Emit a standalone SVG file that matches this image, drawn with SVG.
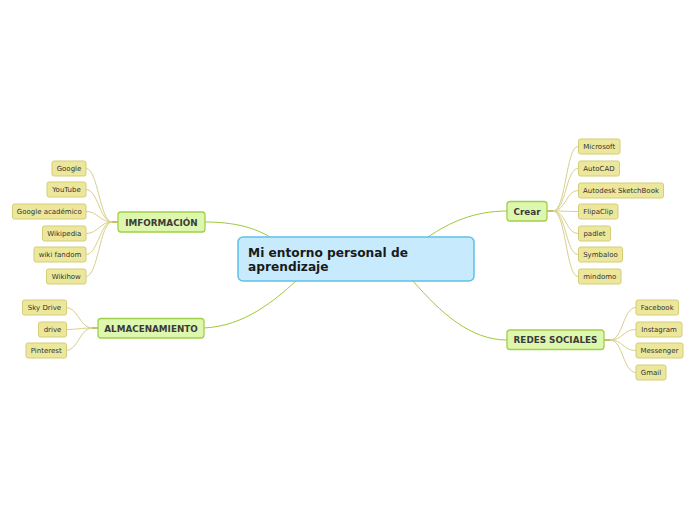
<svg xmlns="http://www.w3.org/2000/svg" width="696" height="520" viewBox="0 0 696 520">
<style>
.main rect{fill:#c7ebfc;stroke:#5ec1ea;stroke-width:1.5}
.main text{font-family:"DejaVu Sans",Verdana,sans-serif;font-weight:bold;font-size:12.2px;fill:#1a1a1a}
.br rect{fill:#def7ae;stroke:#a2cf4a;stroke-width:1.3}
.br text{font-family:"DejaVu Sans",Verdana,sans-serif;font-weight:bold;font-size:8.8px;fill:#3a3a3a;text-anchor:middle}
.lf rect{fill:#ede79c;stroke:#d5cd78;stroke-width:1}
.lf text{font-family:"DejaVu Sans",Verdana,sans-serif;font-size:7px;fill:#333;text-anchor:middle}
.mc{fill:none;stroke:#9fc83c;stroke-width:1}
.lc{fill:none;stroke:#d8d08c;stroke-width:1}
.st{fill:none;stroke:#b8a83a;stroke-width:1.5}
</style>
<rect width="696" height="520" fill="#ffffff"/>
<g id="connectors">
<path class="mc" d="M205,222 C235,222 255,228 270,237"/>
<path class="mc" d="M204,328 C245,326 275,300 296,281"/>
<path class="mc" d="M428,237 C450,222 475,211 507,211"/>
<path class="mc" d="M413,281 C440,312 470,340 507,340"/>
<path class="st" d="M118,222 H112"/>
<path class="lc" d="M112,222 C100,222 98,168.5 86,168.5"/>
<path class="lc" d="M112,222 C100,222 98,189.5 86,189.5"/>
<path class="lc" d="M112,222 C100,222 98,211.5 86,211.5"/>
<path class="lc" d="M112,222 C100,222 98,233.5 86,233.5"/>
<path class="lc" d="M112,222 C100,222 98,254.5 86,254.5"/>
<path class="lc" d="M112,222 C100,222 98,276.5 86,276.5"/>
<path class="st" d="M98,328 H92"/>
<path class="lc" d="M92,328 C80,328 78,307.5 66,307.5"/>
<path class="lc" d="M92,328 C80,328 78,329.5 66,329.5"/>
<path class="lc" d="M92,328 C80,328 78,350.5 66,350.5"/>
<path class="st" d="M547,211 H553"/>
<path class="lc" d="M553,211 C566,211 566,146.5 578,146.5"/>
<path class="lc" d="M553,211 C566,211 566,168.5 578,168.5"/>
<path class="lc" d="M553,211 C566,211 566,190.5 578,190.5"/>
<path class="lc" d="M553,211 C566,211 566,211.5 578,211.5"/>
<path class="lc" d="M553,211 C566,211 566,233.5 578,233.5"/>
<path class="lc" d="M553,211 C566,211 566,254.5 578,254.5"/>
<path class="lc" d="M553,211 C566,211 566,276.5 578,276.5"/>
<path class="st" d="M604,340 H610"/>
<path class="lc" d="M610,340 C623,340 623,307.5 636,307.5"/>
<path class="lc" d="M610,340 C623,340 623,329.5 636,329.5"/>
<path class="lc" d="M610,340 C623,340 623,350.5 636,350.5"/>
<path class="lc" d="M610,340 C623,340 623,372.5 636,372.5"/>
</g>
<g id="main" class="main">
<rect x="238" y="237" width="236" height="44" rx="5"/>
<text x="248" y="257">Mi entorno personal de</text>
<text x="248" y="271">aprendizaje</text>
</g>
<g id="informacion" class="br">
<rect x="118" y="212" width="87" height="20" rx="3"/>
<text x="161.5" y="225.5">IMFORMACIÓN</text>
</g>
<g id="almacenamiento" class="br">
<rect x="98" y="318.5" width="106" height="19.5" rx="3"/>
<text x="151" y="331.5">ALMACENAMIENTO</text>
</g>
<g id="crear" class="br">
<rect x="507" y="201.5" width="40" height="19.5" rx="3"/>
<text x="527" y="214.5">Crear</text>
</g>
<g id="redes" class="br">
<rect x="507" y="330" width="97" height="19.5" rx="3"/>
<text x="555.5" y="343">REDES SOCIALES</text>
</g>
<g id="google" class="lf"><rect x="52" y="161" width="34" height="15" rx="2"/><text x="69" y="171">Google</text></g>
<g id="youtube" class="lf"><rect x="47" y="182" width="39" height="15" rx="2"/><text x="66.5" y="192">YouTube</text></g>
<g id="google-academico" class="lf"><rect x="12.5" y="204" width="73.5" height="15" rx="2"/><text x="49.25" y="214">Google académico</text></g>
<g id="wikipedia" class="lf"><rect x="42.5" y="226" width="43.5" height="15" rx="2"/><text x="64.25" y="236">Wikipedia</text></g>
<g id="wiki-fandom" class="lf"><rect x="34" y="247" width="52" height="15" rx="2"/><text x="60" y="257">wiki fandom</text></g>
<g id="wikihow" class="lf"><rect x="46.5" y="269" width="39.5" height="15" rx="2"/><text x="66.25" y="279">Wikihow</text></g>
<g id="sky-drive" class="lf"><rect x="22.5" y="300" width="44" height="15" rx="2"/><text x="44.5" y="310">Sky Drive</text></g>
<g id="drive" class="lf"><rect x="38.5" y="322" width="28" height="15" rx="2"/><text x="52.5" y="332">drive</text></g>
<g id="pinterest" class="lf"><rect x="26" y="343" width="40.5" height="15" rx="2"/><text x="46.25" y="353">Pinterest</text></g>
<g id="microsoft" class="lf"><rect x="578.5" y="139" width="41.5" height="15" rx="2"/><text x="599.25" y="149">Microsoft</text></g>
<g id="autocad" class="lf"><rect x="578.5" y="161" width="41" height="15" rx="2"/><text x="599" y="171">AutoCAD</text></g>
<g id="sketchbook" class="lf"><rect x="578.5" y="183" width="85" height="15" rx="2"/><text x="621" y="193">Autodesk SketchBook</text></g>
<g id="flipaclip" class="lf"><rect x="578.5" y="204" width="39.5" height="15" rx="2"/><text x="598.25" y="214">FlipaClip</text></g>
<g id="padlet" class="lf"><rect x="578.5" y="226" width="32" height="15" rx="2"/><text x="594.5" y="236">padlet</text></g>
<g id="symbaloo" class="lf"><rect x="578.5" y="247" width="44" height="15" rx="2"/><text x="600.5" y="257">Symbaloo</text></g>
<g id="mindomo" class="lf"><rect x="578.5" y="269" width="42.5" height="15" rx="2"/><text x="599.75" y="279">mindomo</text></g>
<g id="facebook" class="lf"><rect x="636" y="300" width="42.5" height="15" rx="2"/><text x="657.25" y="310">Facebook</text></g>
<g id="instagram" class="lf"><rect x="636" y="322" width="46" height="15" rx="2"/><text x="659" y="332">Instagram</text></g>
<g id="messenger" class="lf"><rect x="636" y="343" width="47" height="15" rx="2"/><text x="659.5" y="353">Messenger</text></g>
<g id="gmail" class="lf"><rect x="636" y="365" width="30" height="15" rx="2"/><text x="651" y="375">Gmail</text></g>
</svg>
